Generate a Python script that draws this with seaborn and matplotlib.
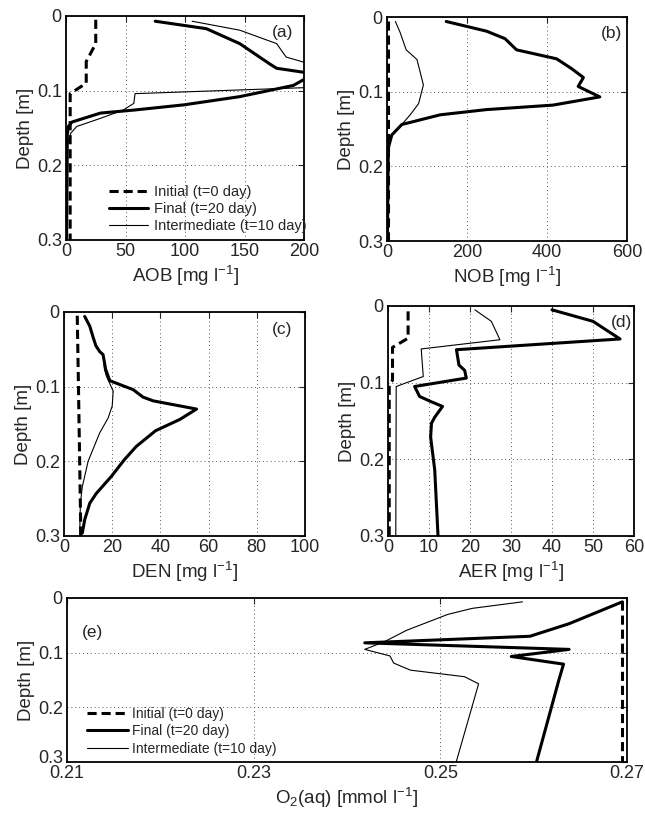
import numpy as np
import pandas as pd
import seaborn as sns
import matplotlib
matplotlib.use('Agg')
import matplotlib.pyplot as plt
import matplotlib.transforms as mtransforms

# ---- data (depth in m) ----
a_init_depth = [0.005, 0.037, 0.061, 0.090, 0.104, 0.30]
a_init = [25, 25, 17, 17, 3.5, 3.5]
a_final_depth = [0.007, 0.017, 0.037, 0.064, 0.070, 0.079, 0.085, 0.093, 0.108, 0.119,
                 0.126, 0.130, 0.142, 0.148, 0.160, 0.30]
a_final = [75, 118, 146, 171, 177, 215, 200, 191, 146, 99, 57, 29, 5, 2, 1, 0.5]
a_mid_depth = [0.007, 0.019, 0.037, 0.055, 0.085, 0.096, 0.104, 0.117, 0.126, 0.137,
               0.148, 0.157, 0.170, 0.30]
a_mid = [106, 146, 177, 185, 250, 200, 58, 57, 48, 29, 9, 4, 1.5, 1]

b_init_depth = [0.005, 0.30]
b_init = [2, 2]
b_final_depth = [0.006, 0.019, 0.029, 0.044, 0.056, 0.069, 0.081, 0.093, 0.107, 0.118,
                 0.124, 0.131, 0.144, 0.158, 0.174, 0.190, 0.30]
b_final = [148, 249, 295, 324, 424, 461, 491, 478, 532, 415, 249, 133, 37, 12, 4, 3, 1]
b_mid_depth = [0.006, 0.021, 0.044, 0.057, 0.091, 0.116, 0.131, 0.144, 0.158, 0.174, 0.190, 0.30]
b_mid = [21, 33, 48, 75, 91, 79, 58, 37, 12, 4, 3, 1]

c_init_depth = [0.005, 0.10, 0.20, 0.30]
c_init = [5.5, 6, 6.5, 7]
c_final_depth = [0.006, 0.019, 0.033, 0.045, 0.053, 0.057, 0.077, 0.092, 0.104, 0.114,
                 0.119, 0.130, 0.144, 0.159, 0.180, 0.198, 0.220, 0.243, 0.256, 0.278, 0.296]
c_final = [8.6, 10.7, 12, 13.2, 14.8, 16.2, 17.3, 19, 28.7, 32.8, 37, 55, 48, 38, 30, 25,
           19.7, 13.4, 10.7, 8.6, 7.6]
c_mid_depth = [0.006, 0.019, 0.033, 0.045, 0.053, 0.057, 0.077, 0.086, 0.106, 0.126, 0.142,
               0.162, 0.200, 0.234, 0.256, 0.30]
c_mid = [8.6, 10.7, 12, 13.2, 14.8, 16.2, 16.8, 17.6, 20.4, 20, 18.3, 14.8, 10, 7.6, 6.8, 6.5]

d_init_depth = [0.007, 0.042, 0.054, 0.097, 0.103, 0.30]
d_init = [4.9, 4.9, 1.1, 1.1, 0.3, 0.3]
d_final_depth = [0.005, 0.020, 0.034, 0.043, 0.057, 0.077, 0.084, 0.094, 0.105, 0.118,
                 0.125, 0.131, 0.145, 0.153, 0.171, 0.214, 0.30]
d_final = [40, 50, 54, 56.6, 16.7, 17.3, 18.7, 19.1, 6.5, 7.7, 10.6, 13.3, 11.4, 10.6,
           10.4, 11.4, 12.2]
d_mid_depth = [0.005, 0.020, 0.044, 0.056, 0.092, 0.105, 0.30]
d_mid = [21.2, 25.2, 27.3, 8.1, 8.6, 2, 1.9]

e_init_depth = [0.005, 0.30]
e_init = [0.2695, 0.2695]
e_final_depth = [0.007, 0.047, 0.070, 0.082, 0.094, 0.107, 0.121, 0.150, 0.30]
e_final = [0.2695, 0.2638, 0.2596, 0.2419, 0.2638, 0.2576, 0.2632, 0.2627, 0.2603]
e_mid_depth = [0.007, 0.019, 0.030, 0.059, 0.080, 0.094, 0.106, 0.119, 0.132, 0.144, 0.157, 0.30]
e_mid = [0.2588, 0.2534, 0.2508, 0.2464, 0.2440, 0.2419, 0.2446, 0.2450, 0.2468, 0.2526,
         0.2541, 0.2517]

labels = ['Initial (t=0 day)', 'Final (t=20 day)', 'Intermediate (t=10 day)']

sns.set_style('white')
plt.rcParams['font.family'] = ['Liberation Sans', 'DejaVu Sans']
plt.rcParams['mathtext.fontset'] = 'custom'
plt.rcParams['mathtext.rm'] = 'Liberation Sans'
plt.rcParams['mathtext.it'] = 'Liberation Sans'
plt.rcParams['mathtext.default'] = 'regular'

fig = plt.figure(figsize=(6.45, 8.19), dpi=100)

FS = 13


def profile(ax, init, final, mid, with_label):
    styles = [dict(color='k', lw=2.2, linestyle=(0, (3, 1.6))),
              dict(color='k', lw=2.2),
              dict(color='k', lw=0.8)]
    for (depth, vals), lab, st in zip([init, final, mid], labels, styles):
        df = pd.DataFrame({'x': vals, 'depth': depth})
        sns.lineplot(data=df, x='x', y='depth', ax=ax, sort=False, estimator=None,
                     label=lab if with_label else None, legend=False, **st)


def style_axes(ax, xlim, xticks, xticklabels, xlabel, tag, tagpos):
    ax.set_xlim(*xlim)
    ax.set_ylim(0.3, 0)
    ax.set_xticks(xticks)
    ax.set_xticklabels(xticklabels)
    ax.set_yticks([0, 0.1, 0.2, 0.3])
    ax.set_yticklabels(['0', '0.1', '0.2', '0.3'])
    ax.grid(True, linestyle=(0, (1, 3)), color='0.35', lw=0.7)
    ax.tick_params(direction='in', length=4, width=0.8, labelsize=FS, pad=2,
                   top=True, right=True)
    ax.tick_params(axis='y', pad=3)
    for s in ax.spines.values():
        s.set_linewidth(1.3)
        s.set_color('k')
    ax.set_xlabel(xlabel, fontsize=FS + 0.5, labelpad=3)
    ax.set_ylabel('Depth [m]', fontsize=FS + 0.5, labelpad=2)
    ax.text(tagpos[0], tagpos[1], tag, transform=ax.transAxes, fontsize=12.5,
            ha='center', va='center')


W, H = 645.0, 819.0


def add_axes(l, r, t, b):
    return fig.add_axes([l / W, 1 - b / H, (r - l) / W, (b - t) / H])


ax_a = add_axes(66, 304, 16, 240)
ax_b = add_axes(387, 627, 17, 241)
ax_c = add_axes(64, 305, 312, 536)
ax_d = add_axes(388, 634, 306, 536)
ax_e = add_axes(67, 627, 598, 762)

profile(ax_a, (a_init_depth, a_init), (a_final_depth, a_final), (a_mid_depth, a_mid), True)
style_axes(ax_a, (0, 200), [0, 50, 100, 150, 200], ['0', '50', '100', '150', '200'],
           'AOB [mg l$^{-1}$]', '(a)', (0.91, 0.925))
ax_a.legend(loc='lower left', bbox_to_anchor=(0.13, -0.02), frameon=False, fontsize=10.5,
            handlelength=2.7, handletextpad=0.4, labelspacing=0.2, borderpad=0.3)

profile(ax_b, (b_init_depth, b_init), (b_final_depth, b_final), (b_mid_depth, b_mid), False)
style_axes(ax_b, (0, 600), [0, 200, 400, 600], ['0', '200', '400', '600'],
           'NOB [mg l$^{-1}$]', '(b)', (0.935, 0.925))

profile(ax_c, (c_init_depth, c_init), (c_final_depth, c_final), (c_mid_depth, c_mid), False)
style_axes(ax_c, (0, 100), [0, 20, 40, 60, 80, 100], ['0', '20', '40', '60', '80', '100'],
           'DEN [mg l$^{-1}$]', '(c)', (0.905, 0.92))

profile(ax_d, (d_init_depth, d_init), (d_final_depth, d_final), (d_mid_depth, d_mid), False)
style_axes(ax_d, (0, 60), [0, 10, 20, 30, 40, 50, 60], ['0', '10', '20', '30', '40', '50', '60'],
           'AER [mg l$^{-1}$]', '(d)', (0.95, 0.93))

profile(ax_e, (e_init_depth, e_init), (e_final_depth, e_final), (e_mid_depth, e_mid), True)
style_axes(ax_e, (0.21, 0.27), [0.21, 0.23, 0.25, 0.27], ['0.21', '0.23', '0.25', '0.27'],
           'O$_2$(aq) [mmol l$^{-1}$]', '(e)', (0.045, 0.79))
ax_e.legend(loc='lower left', bbox_to_anchor=(0.015, -0.03), frameon=False, fontsize=10,
            handlelength=3.0, handletextpad=0.3, labelspacing=0.25, borderpad=0.3)
# lift the bottom depth label of (e) a little so it clears the 0.21 label
lift = mtransforms.ScaledTranslation(0, 4 / 72, fig.dpi_scale_trans)
lab03 = ax_e.get_yticklabels()[-1]
lab03.set_transform(lab03.get_transform() + lift)

fig.savefig('out.png', dpi=100)
